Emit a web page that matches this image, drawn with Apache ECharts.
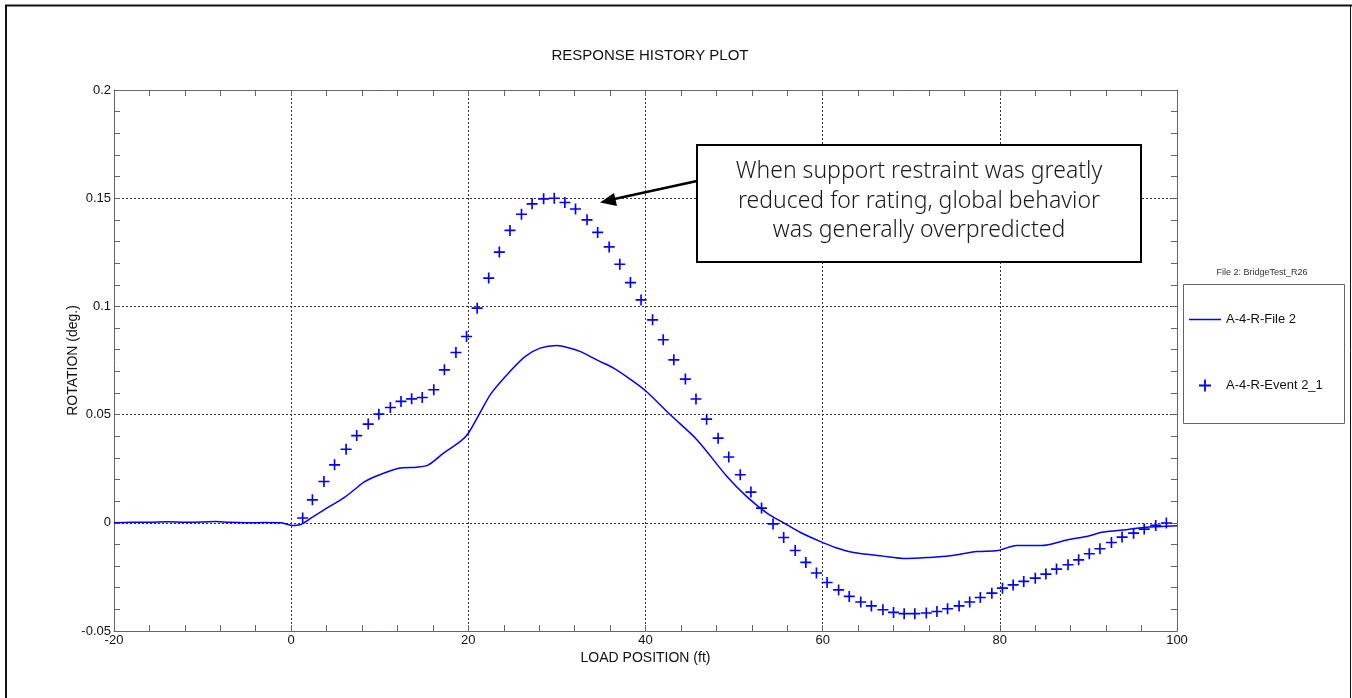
<!DOCTYPE html>
<html>
<head>
<meta charset="utf-8">
<script src="https://cdn.jsdelivr.net/npm/echarts@6/dist/echarts.min.js"></script>
<style>
html,body{margin:0;padding:0;background:#fff;}
#chart{width:1352px;height:698px;}
</style>
</head>
<body>
<div id="chart"></div>
<script>
// ---- data ----
const titleText = 'RESPONSE HISTORY PLOT';
const xAxisName = 'LOAD POSITION (ft)';
const yAxisName = 'ROTATION (deg.)';
const legendTitle = 'File 2: BridgeTest_R26';
const seriesNames = ['A-4-R-File 2', 'A-4-R-Event 2_1'];
const annotationLines = ['When support restraint was greatly', 'reduced for rating, global behavior', 'was generally overpredicted'];

const fileX = [-20, -18, -16, -14, -12, -10, -8.5, -7, -5, -3, -1.2, 0.1, 1.0, 2.5, 4.2, 5.9, 7.2, 8.3, 10.0, 12.3, 14.2, 15.5, 17.2, 19.1, 20.0, 21.3, 22.6, 24.7, 26.4, 28.1, 30.0, 31.5, 32.6, 34.9, 36.4, 38.3, 40.1, 42.8, 45.8, 49.2, 51.4, 53.7, 55.6, 57.5, 59.7, 61.5, 63.5, 66.5, 69.5, 72.0, 74.4, 77.4, 79.8, 81.9, 84.7, 87.6, 89.8, 91.7, 94.3, 96.2, 100];
const fileY = [0.0, 0.0003, 0.0002, 0.0005, 0.0003, 0.0004, 0.0006, 0.0002, 0.0, 0.0001, 0.0, -0.0012, -0.0009, 0.0029, 0.0072, 0.0114, 0.0155, 0.019, 0.0222, 0.0253, 0.0257, 0.0268, 0.0322, 0.0376, 0.0414, 0.0507, 0.0599, 0.0699, 0.0768, 0.0807, 0.0819, 0.0807, 0.0792, 0.0745, 0.0715, 0.0663, 0.0607, 0.0499, 0.0384, 0.0214, 0.0122, 0.0045, 0.0, -0.0045, -0.0086, -0.0115, -0.0137, -0.0152, -0.0165, -0.016, -0.0152, -0.0133, -0.0128, -0.0105, -0.0105, -0.0079, -0.0063, -0.0043, -0.0032, -0.0022, -0.0014];

const eventX = [1.3, 2.4, 3.7, 4.9, 6.2, 7.4, 8.7, 9.9, 11.2, 12.4, 13.6, 14.8, 16.1, 17.3, 18.6, 19.8, 21.0, 22.3, 23.5, 24.7, 26.0, 27.2, 28.5, 29.7, 30.9, 32.1, 33.4, 34.6, 35.9, 37.1, 38.3, 39.5, 40.8, 42.0, 43.2, 44.5, 45.7, 46.9, 48.2, 49.4, 50.7, 51.9, 53.1, 54.4, 55.6, 56.9, 58.1, 59.3, 60.5, 61.8, 63.0, 64.3, 65.5, 66.8, 68.0, 69.2, 70.4, 71.7, 72.9, 74.1, 75.4, 76.6, 77.8, 79.1, 80.3, 81.5, 82.7, 84.0, 85.2, 86.4, 87.7, 88.9, 90.1, 91.3, 92.6, 93.8, 95.1, 96.3, 97.6, 98.8];
const eventY = [0.0022, 0.0106, 0.0191, 0.0268, 0.034, 0.0403, 0.0456, 0.0502, 0.0533, 0.0561, 0.0573, 0.0579, 0.0615, 0.0707, 0.0787, 0.0861, 0.0992, 0.1131, 0.1251, 0.1351, 0.1426, 0.1474, 0.1497, 0.1500, 0.148, 0.145, 0.140, 0.1342, 0.1275, 0.1195, 0.111, 0.103, 0.0938, 0.0846, 0.0753, 0.0664, 0.0572, 0.0479, 0.0391, 0.0304, 0.0222, 0.0142, 0.0068, -0.0005, -0.0068, -0.0128, -0.0183, -0.0232, -0.0276, -0.031, -0.034, -0.0366, -0.0384, -0.0402, -0.0414, -0.042, -0.042, -0.0417, -0.041, -0.0397, -0.0384, -0.0366, -0.0345, -0.0325, -0.0302, -0.0287, -0.0271, -0.0256, -0.0237, -0.0214, -0.0194, -0.0171, -0.0143, -0.012, -0.0091, -0.0066, -0.0048, -0.0029, -0.0012, -0.0001];

// ---- build ----
const fileData = fileX.map((x, i) => [x, fileY[i]]);
const eventData = eventX.map((x, i) => [x, eventY[i]]);
const BLUE = '#0000ff';
const PLUS = 'path://M8.5,0H11.5V8.5H20V11.5H11.5V20H8.5V11.5H0V8.5H8.5Z';
const FONT = '"Liberation Sans", Arial, sans-serif';

const gridLine = {show: true, lineStyle: {color: '#333', type: [2, 2], width: 1}};
const axisLineStyle = {show: true, onZero: false, lineStyle: {color: '#666', width: 1}};
const tick = {show: true, inside: true, length: 6, lineStyle: {color: '#666'}};
const minor = {show: true, splitNumber: 5, length: 6, lineStyle: {color: '#666'}};

const chart = echarts.init(document.getElementById('chart'), null, {renderer: 'canvas'});
chart.setOption({
  animation: false,
  backgroundColor: '#fff',
  title: {
    text: titleText, left: 645, top: 43, textAlign: 'center',
    textStyle: {fontFamily: FONT, fontSize: 15, fontWeight: 'normal', color: '#111'}
  },
  grid: {left: 114, top: 90, right: 175, bottom: 67},
  xAxis: [{
    type: 'value', min: -20, max: 100, interval: 20,
    name: xAxisName, nameLocation: 'middle', nameGap: 20, nameMoveOverlap: false,
    nameTextStyle: {fontFamily: FONT, fontSize: 14, color: '#111'},
    axisLine: axisLineStyle, axisTick: tick, minorTick: minor,
    axisLabel: {fontFamily: FONT, fontSize: 13, color: '#111', margin: 3},
    splitLine: gridLine
  }, {
    type: 'value', min: -20, max: 100, interval: 20, position: 'top',
    axisLine: axisLineStyle, axisTick: tick, minorTick: minor,
    axisLabel: {show: false}, splitLine: {show: false}
  }],
  yAxis: [{
    type: 'value', min: -0.05, max: 0.2, interval: 0.05,
    name: yAxisName, nameLocation: 'middle', nameGap: 34, nameMoveOverlap: false,
    nameTextStyle: {fontFamily: FONT, fontSize: 14, color: '#111'},
    axisLine: axisLineStyle, axisTick: tick, minorTick: minor,
    axisLabel: {fontFamily: FONT, fontSize: 13, color: '#111', margin: 3},
    splitLine: gridLine
  }, {
    type: 'value', min: -0.05, max: 0.2, interval: 0.05, position: 'right',
    axisLine: axisLineStyle, axisTick: tick, minorTick: minor,
    axisLabel: {show: false}, splitLine: {show: false}
  }],
  legend: {
    orient: 'vertical', left: 1189, top: 313, itemGap: 53, itemWidth: 32, itemHeight: 12,
    padding: 0, textStyle: {fontFamily: FONT, fontSize: 13, color: '#111'},
    data: [
      {name: seriesNames[0], icon: 'path://M0,5H32V6.5H0Z'},
      {name: seriesNames[1], icon: PLUS}
    ]
  },
  series: [{
    name: seriesNames[0], type: 'line', data: fileData,
    xAxisIndex: 0, yAxisIndex: 0, symbol: 'none', smooth: 0.3,
    lineStyle: {color: BLUE, width: 1.5}, itemStyle: {color: BLUE}
  }, {
    name: seriesNames[1], type: 'scatter', data: eventData,
    xAxisIndex: 0, yAxisIndex: 0, symbol: PLUS, symbolSize: 11,
    itemStyle: {color: BLUE, opacity: 1}
  }],
  graphic: [
    {type: 'line', shape: {x1: 5, y1: 5.5, x2: 1352, y2: 5.5}, style: {stroke: '#111', lineWidth: 2}, silent: true},
    {type: 'line', shape: {x1: 6, y1: 5, x2: 6, y2: 698}, style: {stroke: '#111', lineWidth: 2}, silent: true},
    {type: 'line', shape: {x1: 1350.5, y1: 5, x2: 1350.5, y2: 698}, style: {stroke: '#111', lineWidth: 1}, silent: true},
    {type: 'rect', shape: {x: 1183.5, y: 284.5, width: 161, height: 139}, style: {fill: 'none', stroke: '#666', lineWidth: 1}, silent: true},
    {type: 'text', x: 1262, y: 273, style: {text: legendTitle, font: '9px ' + FONT, fill: '#333', align: 'center', verticalAlign: 'middle'}, silent: true},
    {type: 'rect', shape: {x: 697, y: 145, width: 444, height: 117}, style: {fill: '#fff', stroke: '#000', lineWidth: 2}, z: 100},
    {type: 'text', x: 919, y: 201, z: 101,
     style: {text: annotationLines.join('\n'), font: '300 23px "Noto Sans", "Open Sans", sans-serif', fill: '#1a1a1a', align: 'center', verticalAlign: 'middle', lineHeight: 29.5}},
    {type: 'line', z: 100, shape: {x1: 697, y1: 181, x2: 612, y2: 199.5}, style: {stroke: '#000', lineWidth: 2.5}},
    {type: 'polygon', z: 100, shape: {points: [[600, 202.5], [614, 193], [617, 206]]}, style: {fill: '#000'}}
  ]
});
</script>
</body>
</html>
